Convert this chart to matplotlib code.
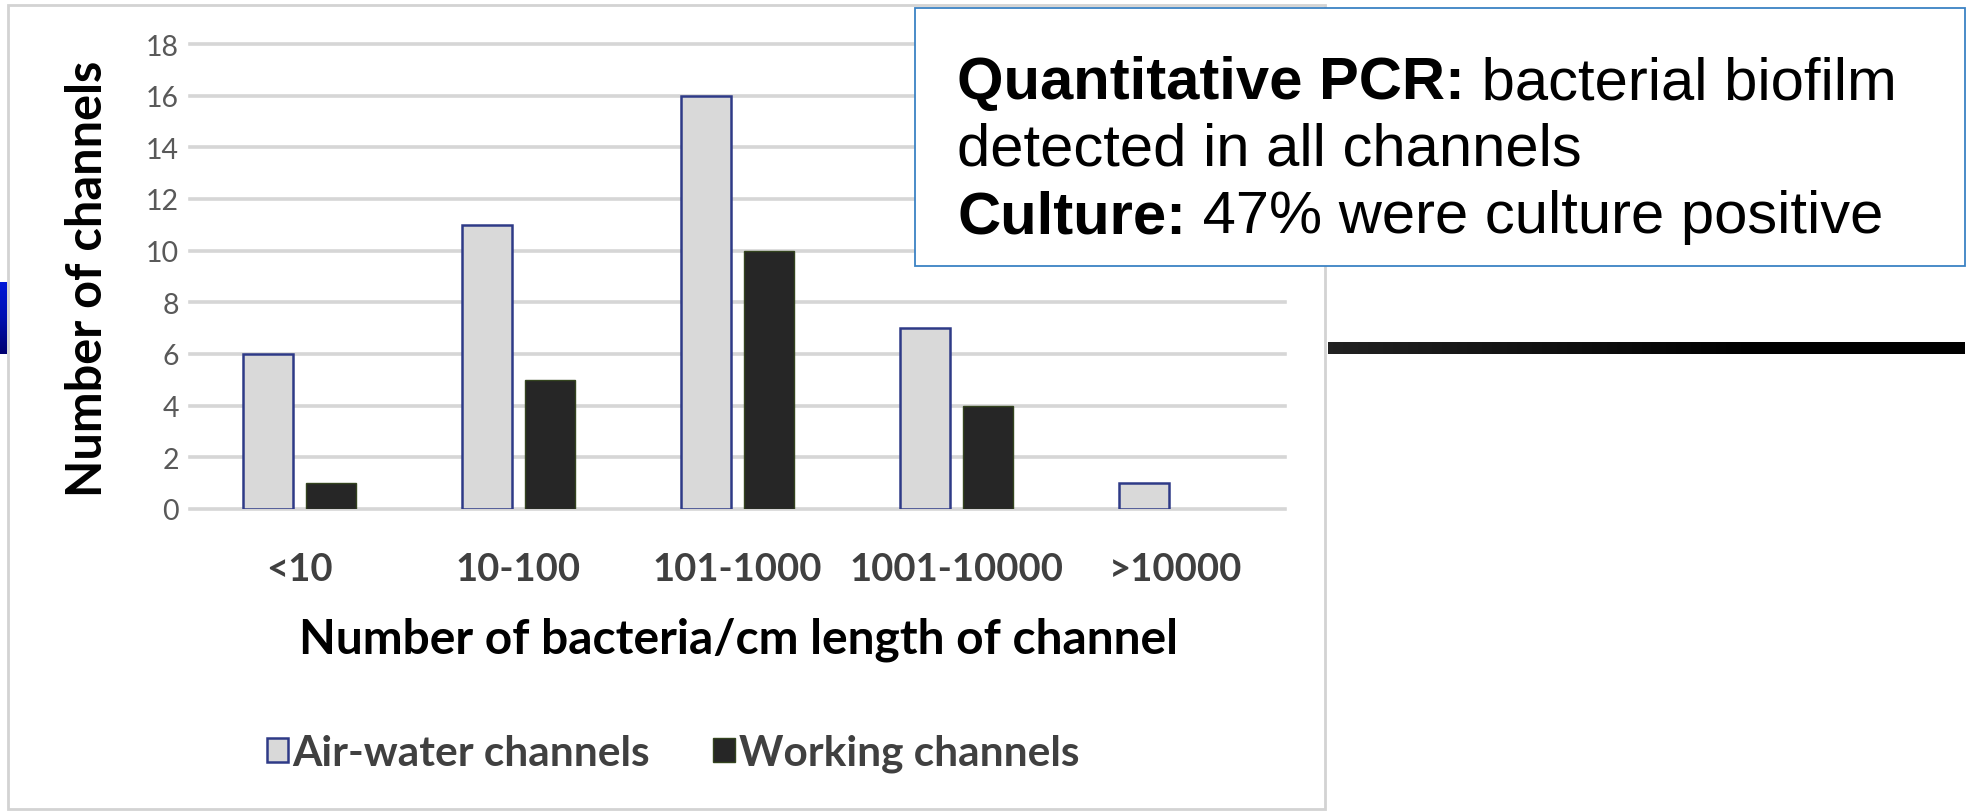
import matplotlib
matplotlib.use("Agg")
import matplotlib.pyplot as plt
import numpy as np
from matplotlib.patches import Rectangle
from matplotlib.colors import LinearSegmentedColormap

# ---------------- data ----------------
categories = ["<10", "10-100", "101-1000", "1001-10000", ">10000"]
air_water = [6, 11, 16, 7, 1]
working = [1, 5, 10, 4, 0]
y_ticks = [0, 2, 4, 6, 8, 10, 12, 14, 16, 18]
series_names = ["Air-water channels", "Working channels"]
y_label = "Number of channels"
x_label = "Number of bacteria/cm length of channel"
box_bold = ["Quantitative PCR:", "", "Culture:"]
box_regular = [" bacterial biofilm", "detected in all channels", " 47% were culture positive"]

# ---------------- figure ----------------
W, H = 1969, 812
fig = plt.figure(figsize=(W / 100, H / 100), dpi=100)
fig.patch.set_facecolor("white")


def fx(p):
    return p / W


def fy(p):
    return 1 - p / H


# chart panel border
fig.patches.append(Rectangle((fx(8), fy(810)), fx(1325) - fx(8), fy(6) - fy(810),
                             transform=fig.transFigure, fill=False,
                             edgecolor="#d3d3d3", lw=2.0, zorder=0))

# blue tab at left edge (gradient)
tab = fig.add_axes([0, fy(355), fx(6), fy(283) - fy(355)])
grad = np.linspace(0, 1, 64).reshape(-1, 1)
bcmap = LinearSegmentedColormap.from_list("b", ["#0018d8", "#0010b0", "#000070"])
tab.imshow(grad, aspect="auto", cmap=bcmap, origin="upper")
tab.axis("off")

# black line on the right (slight gradient)
bl = fig.add_axes([fx(1328), fy(355), fx(1965) - fx(1328), fy(343) - fy(355)])
g2 = np.linspace(0, 1, 128).reshape(1, -1)
kcmap = LinearSegmentedColormap.from_list("k", ["#222222", "#111111", "#000000", "#000000"])
bl.imshow(g2, aspect="auto", cmap=kcmap)
bl.axis("off")

# main axes
ax = fig.add_axes([fx(190), fy(510), fx(1285) - fx(190), fy(45) - fy(510)])
x = np.arange(len(categories))
w = 0.228
off = 0.145
b1 = ax.bar(x - off, air_water, w, color="#d9d9d9", edgecolor="#2e3a87",
            linewidth=1.8, zorder=3, label=series_names[0])
b2 = ax.bar(x + off, working, w, color="#262626", edgecolor="#34441f",
            linewidth=1.0, zorder=3, label=series_names[1])
for r in list(b1) + list(b2):
    if r.get_height() == 0:
        r.set_visible(False)

ax.set_xlim(-0.5, 4.5)
ax.set_ylim(0, 18)
ax.set_yticks(y_ticks)
ax.set_xticks(x)
ax.set_xticklabels(categories, fontfamily="Lato", fontweight="bold",
                   fontsize=27.5, color="#404040")
ax.set_yticklabels([str(v) for v in y_ticks], fontfamily="Lato",
                   fontsize=20.5, color="#595959")
ax.tick_params(axis="both", length=0)
ax.tick_params(axis="y", pad=8)
ax.tick_params(axis="x", pad=31)
for s in ax.spines.values():
    s.set_visible(False)
ax.yaxis.grid(True, color="#d6d6d6", linewidth=2.6, zorder=0)
ax.set_axisbelow(True)
for gl in ax.get_ygridlines():
    gl.set_clip_on(False)
ax.set_facecolor("none")

# axis titles
fig.text(fx(88), fy(279), y_label, rotation=90, ha="center", va="center",
         fontfamily="Lato", fontweight="bold", fontsize=35, color="#000000")
fig.text(fx(738), fy(640), x_label, ha="center", va="center",
         fontfamily="Lato", fontweight="bold", fontsize=34.5, color="#000000")

# legend
fig.legend(handles=[b1, b2], labels=series_names, loc="center",
           bbox_to_anchor=(fx(673), fy(754)), ncol=2, frameon=False,
           prop={"family": "Lato", "weight": "bold", "size": 30.5},
           labelcolor="#404040", handlelength=0.5, handleheight=0.5,
           handletextpad=0.1, columnspacing=1.5)

# text box
fig.patches.append(Rectangle((fx(915), fy(267)), fx(1965) - fx(915), fy(9) - fy(267),
                             transform=fig.transFigure, facecolor="white",
                             edgecolor="#3b82c4", lw=1.3, zorder=5))
fig.canvas.draw()
renderer = fig.canvas.get_renderer()
baselines = [99, 165, 233]
fs_box = 43
for bold, reg, yb in zip(box_bold, box_regular, baselines):
    xpos = fx(957)
    if bold:
        t = fig.text(xpos, fy(yb), bold, ha="left", va="baseline",
                     fontfamily="Liberation Sans", fontweight="bold",
                     fontsize=fs_box, color="black", zorder=6)
        bb = t.get_window_extent(renderer=renderer)
        xpos = bb.x1 / W
    fig.text(xpos, fy(yb), reg, ha="left", va="baseline",
             fontfamily="Liberation Sans", fontsize=fs_box, color="black", zorder=6)

fig.savefig("out.png", dpi=100, facecolor="white")
